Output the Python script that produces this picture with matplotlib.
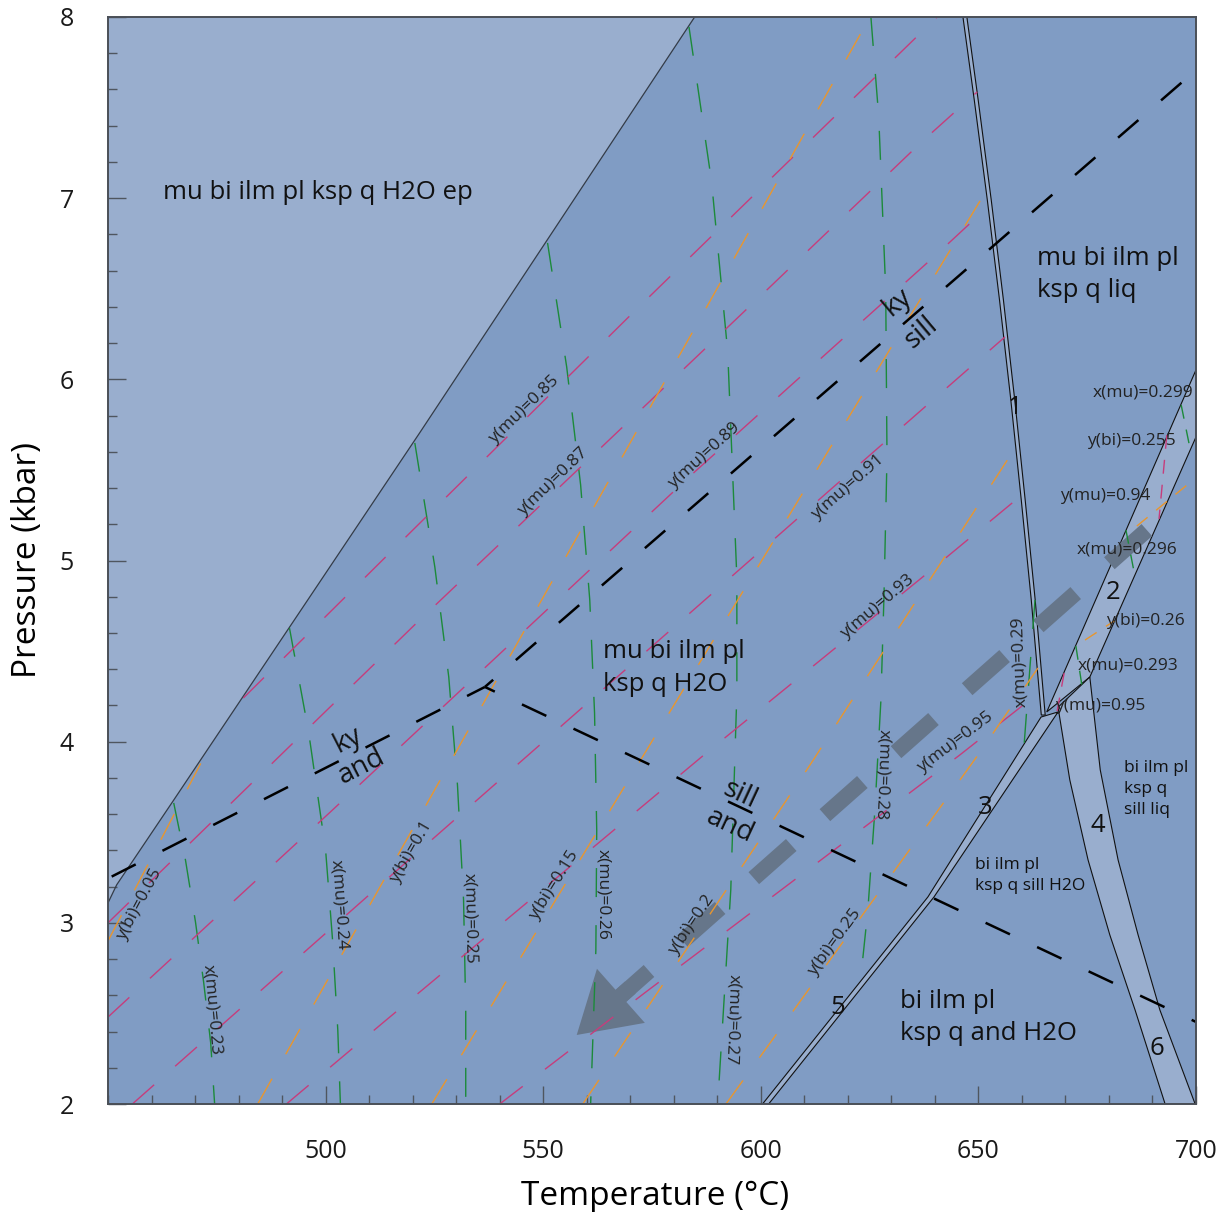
import matplotlib
matplotlib.use('Agg')
import matplotlib.pyplot as plt
from matplotlib.patches import Polygon
from matplotlib.ticker import MultipleLocator
import numpy as np

plt.rcParams['font.family'] = ['Open Sans', 'DejaVu Sans']
plt.rcParams['lines.scale_dashes'] = False

BG = '#809cc4'
LIGHT = '#99aece'
GREEN = '#1c8a3a'
PINK = '#c63d7c'
ORANGE = '#e8962e'
ARROW = '#66768a'

# T in degC, P in kbar
# upper-left field boundary (ep-bearing assemblage)
ep_T = [450.0, 452.0, 464.8, 521.6, 584.8]
ep_P = [3.11, 3.21, 3.667, 5.704, 8.0]

# narrow field 1 (centre line + half width in T)
f1_T = [646.9, 649.5, 652.5, 655.3, 657.9, 660.3, 662.6, 664.9]
f1_P = [8.0, 7.542, 6.99, 6.438, 5.886, 5.334, 4.782, 4.147]
f1_half = 0.45

# narrow field 2
f2_T = [665.7, 700.0, 700.0, 675.6]
f2_P = [4.164, 6.052, 5.682, 4.357]

# narrow fields 3 and 5
f35_T = [664.4, 638.4, 600.4, 601.8, 639.8, 668.3]
f35_P = [4.136, 3.143, 2.0, 2.0, 3.143, 4.164]

# narrow fields 4 and 6
f46_left_T = [668.3, 671.0, 675.2, 680.2, 686.0, 692.9]
f46_left_P = [4.19, 3.789, 3.347, 2.933, 2.519, 2.0]
f46_right_T = [675.6, 678.0, 682.1, 686.7, 691.7, 699.8]
f46_right_P = [4.357, 3.844, 3.347, 2.933, 2.519, 2.0]

# aluminosilicate triple point and reaction ends
triple = (536.6, 4.302)
ky_and_end = (450.0, 3.245)
ky_sill_end = (700.0, 7.707)
and_sill_end = (700.0, 2.453)

# x(mu) isopleths
xmu_vals = [0.23, 0.24, 0.25, 0.26, 0.27, 0.28, 0.29]
xmu_T = [[465.1, 467.8, 470.1, 472.0, 473.6, 474.5],
         [491.7, 496.1, 500.0, 501.6, 502.8, 503.4],
         [520.5, 525.1, 528.3, 530.3, 531.7, 532.2, 532.2],
         [551.0, 555.4, 558.6, 560.7, 561.8, 562.3, 562.1, 560.9],
         [583.5, 588.7, 592.4, 594.5, 594.5, 593.1, 590.1],
         [625.3, 627.1, 628.7, 629.0, 628.3, 627.6, 626.2, 624.6, 622.8],
         [663.0, 661.8, 660.5]]
xmu_P = [[3.662, 3.347, 3.005, 2.668, 2.337, 2.0],
         [4.627, 4.053, 3.402, 2.905, 2.409, 2.0],
         [5.649, 4.964, 4.357, 3.761, 3.126, 2.519, 2.0],
         [6.753, 6.068, 5.417, 4.782, 4.158, 3.512, 2.85, 2.0],
         [7.945, 7.089, 6.151, 4.903, 4.269, 3.181, 2.0],
         [8.0, 7.448, 6.493, 5.571, 4.799, 4.230, 3.617, 3.071, 2.657],
         [4.782, 4.396, 3.982]]

# y(mu) isopleths
ymu_vals = [0.85, 0.87, 0.89, 0.91, 0.93, 0.95]
ymu_T = [[481.1, 520.5, 572.2, 640.5],
         [450.0, 520.9, 600.2, 637.2, 649.7],
         [450.0, 501.1, 584.8, 640.5, 652.4],
         [455.6, 513.1, 615.9, 656.1],
         [491.0, 513.1, 588.3, 637.2, 660.0],
         [540.0, 573.3, 614.7, 645.7, 664.1]]
ymu_P = [[4.241, 5.179, 6.405, 8.0],
         [3.0, 4.655, 6.466, 7.316, 7.586],
         [2.480, 3.612, 5.489, 6.692, 6.957],
         [2.0, 3.22, 5.389, 6.234],
         [2.0, 2.447, 3.954, 4.909, 5.362],
         [2.0, 2.613, 3.363, 3.926, 4.274]]

# y(bi) isopleths
ybi_vals = [0.05, 0.10, 0.15, 0.20, 0.25]
ybi_T = [[450.0, 472.2], [484.4, 625.1], [524.4, 651.9],
         [559.1, 611.3, 658.6], [592.0, 649.9, 663.7]]
ybi_P = [[2.90, 3.921], [2.0, 8.0], [2.0, 7.045],
         [2.0, 3.871, 5.627], [2.0, 3.926, 4.407]]

# short isopleth segments inside field 2
seg_colors = [GREEN, GREEN, GREEN, PINK, PINK, ORANGE, ORANGE]
seg_T = [[696.6, 698.7], [683.9, 686.0], [672.4, 673.8], [693.3, 691.5],
         [669.7, 668.1], [686.4, 698.1], [674.5, 681.2]]
seg_P = [[5.858, 5.610], [5.168, 4.909], [4.528, 4.307], [5.693, 5.229],
         [4.379, 4.169], [5.19, 5.42], [4.561, 4.666]]

# schematic P-T path
path_T = [688.7, 557.7]
path_P = [5.168, 2.381]

# labels
field_labels = ['mu bi ilm pl ksp q H2O ep', 'mu bi ilm pl\nksp q H2O',
                'mu bi ilm pl\nksp q liq', 'bi ilm pl\nksp q\nsill liq',
                'bi ilm pl\nksp q sill H2O', 'bi ilm pl\nksp q and H2O']
field_T = [498.2, 563.7, 663.4, 683.4, 649.2, 631.9]
field_P = [7.029, 4.407, 6.579, 3.739, 3.261, 2.478]
field_ha = ['center', 'left', 'left', 'left', 'left', 'left']
field_size = [18.5, 18.5, 18.5, 12.5, 12.5, 18.5]
field_spacing = [1.4, 1.4, 1.4, 1.45, 1.45, 1.4]

num_labels = ['1', '2', '3', '4', '5', '6']
num_T = [658.4, 680.9, 651.5, 677.5, 617.7, 691.0]
num_P = [5.847, 4.826, 3.634, 3.535, 2.530, 2.309]

als_labels = ['ky', 'and', 'ky', 'sill', 'sill', 'and']
als_T = [505.1, 508.3, 631.3, 636.8, 595.2, 592.9]
als_P = [4.009, 3.860, 6.427, 6.256, 3.706, 3.535]
als_rot = [27, 27, 40, 40, -25, -25]

iso_labels = ['y(mu)=0.85', 'y(mu)=0.87', 'y(mu)=0.89', 'y(mu)=0.91', 'y(mu)=0.93',
              'y(mu)=0.95', 'x(mu)=0.23', 'x(mu)=0.24', 'x(mu)=0.25', 'x(mu)=0.26',
              'x(mu)=0.27', 'x(mu)=0.28', 'x(mu)=0.29', 'y(bi)=0.05', 'y(bi)=0.1',
              'y(bi)=0.15', 'y(bi)=0.2', 'y(bi)=0.25']
iso_T = [545.7, 552.2, 587.1, 620.0, 626.9, 644.6, 474.0, 503.2, 533.1, 563.7,
         593.6, 628.0, 659.5, 457.2, 519.8, 552.6, 584.1, 617.0]
iso_P = [5.831, 5.433, 5.577, 5.406, 4.743, 3.998, 2.519, 3.101, 3.027, 3.154,
         2.464, 3.816, 4.44, 3.099, 3.391, 3.209, 2.988, 2.894]
iso_rot = [44, 44, 42, 41, 40, 37, -85, -86, -89, -90, -92, -92, 92,
           62, 60, 58, 56, 54]

side_labels = ['x(mu)=0.299', 'y(bi)=0.255', 'y(mu)=0.94', 'x(mu)=0.296',
               'y(bi)=0.26', 'x(mu)=0.293', 'y(mu)=0.95']
side_T = [687.8, 685.1, 679.1, 684.1, 688.3, 684.3, 677.9]
side_P = [5.930, 5.660, 5.356, 5.058, 4.666, 4.418, 4.197]


fig = plt.figure(figsize=(12.31, 12.12), dpi=100)
ax = fig.add_axes([108 / 1231, 1 - 1104 / 1212, 1088 / 1231, 1087 / 1212])
ax.set_xlim(450, 700)
ax.set_ylim(2, 8)
ax.set_facecolor(BG)

# ep field
ep_poly = list(zip(ep_T, ep_P)) + [(450, 8)]
ax.add_patch(Polygon(ep_poly, closed=True, facecolor=LIGHT, edgecolor='none', zorder=1))
ax.plot(ep_T, ep_P, color='#343c48', lw=0.9, zorder=3)

# narrow fields
f1_T = np.array(f1_T)
f1_poly = list(zip(f1_T - f1_half, f1_P)) + list(zip(f1_T[::-1] + f1_half, f1_P[::-1]))
f46_poly = list(zip(f46_left_T, f46_left_P)) + list(zip(f46_right_T[::-1], f46_right_P[::-1]))
for poly in [f1_poly, list(zip(f2_T, f2_P)), list(zip(f35_T, f35_P)), f46_poly]:
    ax.add_patch(Polygon(poly, closed=True, facecolor=LIGHT, edgecolor='#111111',
                         lw=0.8, zorder=1.5))

# P-T path arrow (dashed shaft, solid head)
pT = np.array(path_T)
pP = np.array(path_P)
shaft_end = 0.939
ax.plot([pT[0], pT[0] + shaft_end * (pT[1] - pT[0])],
        [pP[0], pP[0] + shaft_end * (pP[1] - pP[0])],
        color=ARROW, lw=11.5, linestyle=(0, (36, 32.4)), dash_capstyle='butt', zorder=2)
tail = 0.906
ax.annotate('', xy=(pT[1], pP[1]),
            xytext=(pT[0] + tail * (pT[1] - pT[0]), pP[0] + tail * (pP[1] - pP[0])),
            arrowprops=dict(arrowstyle='simple,head_length=4.25,head_width=5.2,tail_width=1.15',
                            mutation_scale=10, color=ARROW, lw=0, shrinkA=0, shrinkB=0),
            zorder=2)

# isopleths
iso_ls = (0, (20.9, 20.2))
for T, P in zip(xmu_T, xmu_P):
    ax.plot(T, P, color=GREEN, lw=1.0, linestyle=iso_ls, zorder=3)
for T, P in zip(ymu_T, ymu_P):
    ax.plot(T, P, color=PINK, lw=1.0, linestyle=iso_ls, zorder=3)
for T, P in zip(ybi_T, ybi_P):
    ax.plot(T, P, color=ORANGE, lw=1.0, linestyle=iso_ls, zorder=3)
for c, T, P in zip(seg_colors, seg_T, seg_P):
    ax.plot(T, P, color=c, lw=1.0, linestyle=(0, (10, 8)), zorder=3)

# aluminosilicate reactions
als_kw = dict(color='black', lw=1.8, zorder=4)
ax.plot([triple[0], ky_and_end[0]], [triple[1], ky_and_end[1]],
        linestyle=(5, (19.4, 21.6)), **als_kw)
ax.plot([triple[0], ky_sill_end[0]], [triple[1], ky_sill_end[1]],
        linestyle=(11.5, (19.4, 21.6)), **als_kw)
ax.plot([triple[0], and_sill_end[0]], [triple[1], and_sill_end[1]],
        linestyle=(11.5, (19.4, 21.6)), **als_kw)

# text
for s, t, p, ha, fs, ls in zip(field_labels, field_T, field_P, field_ha,
                               field_size, field_spacing):
    ax.text(t, p, s, ha=ha, va='center', fontsize=fs, color='#111111',
            linespacing=ls, zorder=5)
for s, t, p in zip(num_labels, num_T, num_P):
    ax.text(t, p, s, ha='center', va='center', fontsize=18.5, color='#111111', zorder=5)
for s, t, p, r in zip(als_labels, als_T, als_P, als_rot):
    ax.text(t, p, s, ha='center', va='center', rotation=r, rotation_mode='anchor',
            fontsize=20, color='#111111', zorder=5)
for s, t, p, r in zip(iso_labels, iso_T, iso_P, iso_rot):
    ax.text(t, p, s, ha='center', va='center', rotation=r, rotation_mode='anchor',
            fontsize=12.5, color='#222222', zorder=5)
for s, t, p in zip(side_labels, side_T, side_P):
    ax.text(t, p, s, ha='center', va='center', fontsize=12.5, color='#222222', zorder=5)

# axes styling
ax.xaxis.set_major_locator(MultipleLocator(50))
ax.xaxis.set_minor_locator(MultipleLocator(10))
ax.yaxis.set_major_locator(MultipleLocator(1))
ax.yaxis.set_minor_locator(MultipleLocator(0.2))
ax.set_xticks([500, 550, 600, 650, 700])
ax.tick_params(which='both', direction='in', color='#4f565f', width=1.0,
               labelsize=18, labelcolor='#1a1a1a')
ax.tick_params(which='major', length=13)
ax.tick_params(which='minor', length=6.5)
ax.tick_params(axis='x', which='major', pad=25)
ax.tick_params(axis='y', which='major', pad=24.5)
for sp in ax.spines.values():
    sp.set_color('#4a4f57')
    sp.set_linewidth(1.4)
    sp.set_zorder(6)

ax.set_xlabel('Temperature (°C)', fontsize=24, va='baseline')
ax.xaxis.set_label_coords(0.5028, -0.0929)
ax.set_ylabel('Pressure (kbar)', fontsize=24)
ax.yaxis.set_label_coords(-0.059, 0.5)

fig.savefig('out.png', dpi=100)
